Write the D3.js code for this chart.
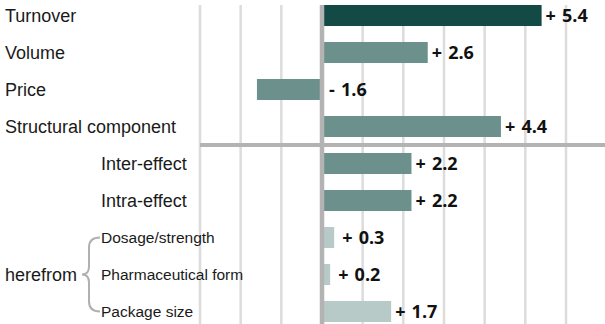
<!DOCTYPE html>
<html>
<head>
<meta charset="utf-8">
<script src="https://cdn.jsdelivr.net/npm/d3@7"></script>
<style>
  body { margin: 0; background: #fff; }
  svg { display: block; }
  .cat { font-family: "Liberation Sans", Arial, sans-serif; fill: #1a1a1a; }
  .val { font-family: "Open Sans", sans-serif; font-weight: 700; fill: #111; }
</style>
</head>
<body>
<div id="chart"></div>
<script>
const categories = ['Turnover', 'Volume', 'Price', 'Structural component', 'Inter-effect', 'Intra-effect', 'Dosage/strength', 'Pharmaceutical form', 'Package size'];
const values = [5.4, 2.6, -1.6, 4.4, 2.2, 2.2, 0.3, 0.2, 1.7];
const valueLabels = ['+ 5.4', '+ 2.6', '- 1.6', '+ 4.4', '+ 2.2', '+ 2.2', '+ 0.3', '+ 0.2', '+ 1.7'];
const levels = [0, 0, 0, 0, 1, 1, 2, 2, 2];
const gridTicks = [-3, -2, -1, 1, 2, 3, 4, 5, 6];
const groupLabel = 'herefrom';

const width = 605, height = 324;
const colors = ['#134a45', '#6c918d', '#b8cac8'];

const svg = d3.select('#chart').append('svg')
    .attr('width', width)
    .attr('height', height);

const x = d3.scaleLinear()
    .domain([-3, 6])
    .range([200, 566]);

const y = d3.scaleBand()
    .domain(categories)
    .range([5, 322])
    .paddingInner(0.432)
    .paddingOuter(0);

// grid
svg.append('g')
  .selectAll('line')
    .data(gridTicks)
  .enter().append('line')
    .attr('x1', d => x(d)).attr('x2', d => x(d))
    .attr('y1', 5).attr('y2', height)
    .attr('stroke', '#dcdcdc')
    .attr('stroke-width', 2.5);

// separator between main items and structural breakdown
const sepY = (y('Structural component') + y.bandwidth() + y('Inter-effect')) / 2;
svg.append('line')
    .attr('x1', x(-3)).attr('x2', width)
    .attr('y1', sepY).attr('y2', sepY)
    .attr('stroke', '#b3b3b3')
    .attr('stroke-width', 4);

// bars
svg.append('g')
  .selectAll('rect')
    .data(categories)
  .enter().append('rect')
    .attr('x', (d, i) => values[i] < 0 ? x(values[i]) : x(0))
    .attr('y', d => y(d))
    .attr('width', (d, i) => Math.abs(x(values[i]) - x(0)))
    .attr('height', y.bandwidth())
    .attr('fill', (d, i) => i === 0 ? colors[0] : colors[levels[i] === 2 ? 2 : 1]);

// zero axis
svg.append('line')
    .attr('x1', x(0)).attr('x2', x(0))
    .attr('y1', 5).attr('y2', height)
    .attr('stroke', '#b3b3b3')
    .attr('stroke-width', 4.5);

// value labels
svg.append('g')
  .selectAll('text')
    .data(categories)
  .enter().append('text')
    .attr('class', 'val')
    .attr('x', (d, i) => (values[i] < 0 ? x(0) + 3 : x(values[i])) + (levels[i] === 2 && values[i] < 0.5 ? 8 : 4))
    .attr('y', d => y(d) + y.bandwidth() / 2)
    .attr('dy', '0.36em')
    .attr('font-size', 18)
    .style('word-spacing', '1.5px')
    .text((d, i) => valueLabels[i]);

// category labels
svg.append('g')
  .selectAll('text')
    .data(categories)
  .enter().append('text')
    .attr('class', 'cat')
    .attr('x', (d, i) => levels[i] === 0 ? 5 : 101)
    .attr('y', d => y(d) + y.bandwidth() / 2)
    .attr('dy', '0.36em')
    .attr('font-size', (d, i) => levels[i] === 2 ? 15.5 : 18)
    .text(d => d);

// brace
const bTop = y('Dosage/strength') + y.bandwidth() / 2;
const bBot = y('Package size') + y.bandwidth() / 2;
const bMid = (bTop + bBot) / 2;
const bx = 100, bl = 82;
const brace = d3.path();
brace.moveTo(bx, bTop);
brace.quadraticCurveTo(bl + 7, bTop, bl + 7, bTop + 10);
brace.lineTo(bl + 7, bMid - 8);
brace.quadraticCurveTo(bl + 7, bMid, bl, bMid);
brace.quadraticCurveTo(bl + 7, bMid, bl + 7, bMid + 8);
brace.lineTo(bl + 7, bBot - 10);
brace.quadraticCurveTo(bl + 7, bBot, bx, bBot);
svg.append('path')
    .attr('d', brace.toString())
    .attr('fill', 'none')
    .attr('stroke', '#b0b0b0')
    .attr('stroke-width', 2);

svg.append('text')
    .attr('class', 'cat')
    .attr('x', 5)
    .attr('y', bMid)
    .attr('dy', '0.36em')
    .attr('font-size', 18)
    .text(groupLabel);
</script>
</body>
</html>
